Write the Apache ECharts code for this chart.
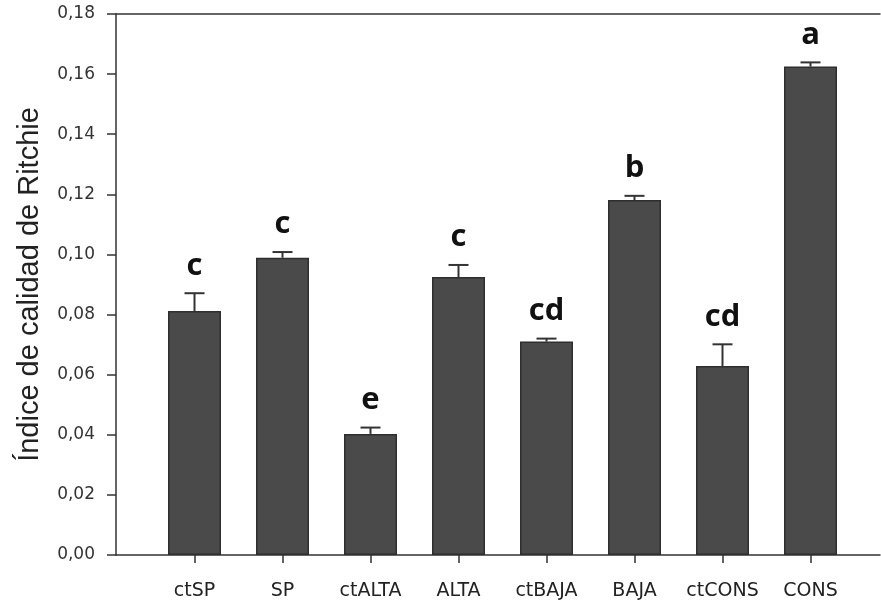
<!DOCTYPE html>
<html>
<head>
<meta charset="utf-8">
<script src="https://cdn.jsdelivr.net/npm/echarts@6/dist/echarts.min.js"></script>
<style>
    html, body { margin: 0; padding: 0; background: #fff; }
    #chart { width: 881px; height: 602px; }
</style>
</head>
<body>
<div id="chart"></div>
<script>
// datos
var categories = ['ctSP', 'SP', 'ctALTA', 'ALTA', 'ctBAJA', 'BAJA', 'ctCONS', 'CONS'];
var means = [0.0812, 0.0989, 0.0403, 0.0925, 0.0710, 0.1181, 0.0629, 0.1625];
var errors = [0.0059, 0.0019, 0.0021, 0.0040, 0.0010, 0.0014, 0.0072, 0.0014];
var letters = ['c', 'c', 'e', 'c', 'cd', 'b', 'cd', 'a'];
var yTicks = { min: 0, max: 0.18, interval: 0.02 };

var axisColor = '#333';
var myChart = echarts.init(document.getElementById('chart'));

var errData = categories.map(function (c, i) {
    return [i, means[i], means[i] + errors[i], letters[i]];
});

var option = {
    animation: false,
    grid: [
        // marco (eje Y y líneas de borde)
        { left: 116, right: 1, top: 14, bottom: 47 },
        // barras
        { left: 150.5, right: 26.5, top: 14, bottom: 47 }
    ],
    xAxis: [
        {
            gridIndex: 0, type: 'value', min: 0, max: 1,
            axisLine: { show: true, lineStyle: { color: axisColor, width: 1.5 } },
            axisTick: { show: false }, axisLabel: { show: false }, splitLine: { show: false }
        },
        {
            gridIndex: 0, type: 'value', min: 0, max: 1, position: 'top',
            axisLine: { show: true, lineStyle: { color: axisColor, width: 1.5 } },
            axisTick: { show: false }, axisLabel: { show: false }, splitLine: { show: false }
        },
        {
            gridIndex: 1, type: 'category', data: categories,
            axisLine: { show: false },
            axisTick: { show: true, alignWithLabel: true, interval: 0, length: 8, lineStyle: { color: axisColor, width: 1.5 } },
            axisLabel: {
                interval: 0,
                margin: 27,
                color: '#222',
                fontFamily: 'DejaVu Sans',
                fontSize: 19
            }
        }
    ],
    yAxis: [
        {
            gridIndex: 0, type: 'value',
            min: yTicks.min, max: yTicks.max, interval: yTicks.interval,
            name: 'Índice de calidad de Ritchie',
            nameLocation: 'middle',
            nameGap: 72,
            nameTextStyle: { fontFamily: 'Liberation Sans', fontSize: 29, color: '#222' },
            axisLine: { show: true, lineStyle: { color: axisColor, width: 1.5 } },
            axisTick: { show: true, length: 9, lineStyle: { color: axisColor, width: 1.5 } },
            axisLabel: {
                margin: 21,
                color: '#333',
                fontFamily: 'DejaVu Sans',
                fontSize: 17,
                formatter: function (v) { return v.toFixed(2).replace('.', ','); }
            },
            splitLine: { show: false }
        },
        {
            gridIndex: 1, type: 'value',
            min: yTicks.min, max: yTicks.max, interval: yTicks.interval,
            show: false
        }
    ],
    series: [
        {
            type: 'bar',
            xAxisIndex: 2, yAxisIndex: 1,
            barWidth: 53,
            data: means,
            itemStyle: { color: '#4a4a4a', borderColor: '#2e2e2e', borderWidth: 1.5 },
            z: 2
        },
        {
            type: 'custom',
            xAxisIndex: 2, yAxisIndex: 1,
            data: errData,
            z: 3,
            renderItem: function (params, api) {
                var x = api.value(0);
                var base = api.coord([x, api.value(1)]);
                var top = api.coord([x, api.value(2)]);
                var cap = 10;
                var ls = { stroke: axisColor, lineWidth: 2 };
                return {
                    type: 'group',
                    children: [
                        { type: 'line', shape: { x1: base[0], y1: base[1], x2: top[0], y2: top[1] }, style: ls },
                        { type: 'line', shape: { x1: top[0] - cap, y1: top[1], x2: top[0] + cap, y2: top[1] }, style: ls },
                        {
                            type: 'text',
                            x: top[0], y: top[1] - 12,
                            style: {
                                text: api.value(3),
                                align: 'center', verticalAlign: 'bottom',
                                fontFamily: 'Open Sans', fontWeight: 'bold', fontSize: 31,
                                fill: '#111'
                            }
                        }
                    ]
                };
            }
        }
    ]
};
myChart.setOption(option, true);
</script>
</body>
</html>
